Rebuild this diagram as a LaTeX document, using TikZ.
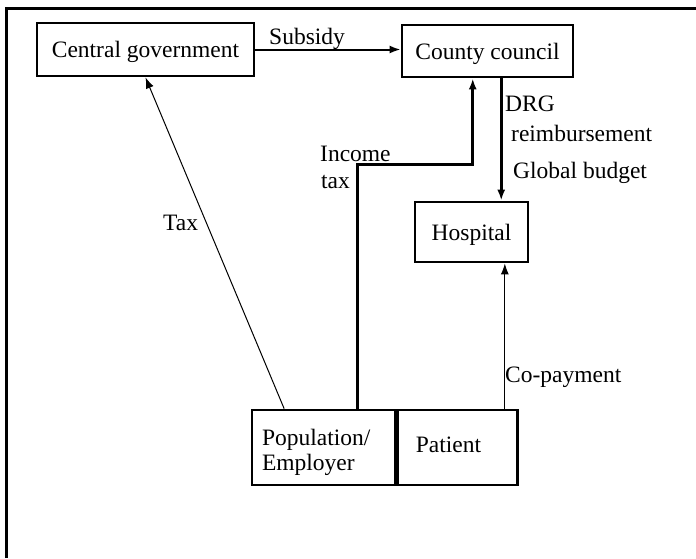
\documentclass[tikz,border=0pt]{standalone}
\usepackage{fontspec}
\setmainfont{Liberation Serif}
\usetikzlibrary{arrows.meta,calc}
\begin{document}
\begin{tikzpicture}[x=1pt, y=-1pt, font=\fontsize{23.5}{27}\selectfont,
		>={Latex[length=11pt,width=8pt]},
		box/.style={draw, line width=2.8pt, rectangle, inner sep=0pt, text depth=0pt},
		flowheavy/.style={line width=2.8pt},
		flowmid/.style={line width=2pt},
		flowthin/.style={line width=1pt},
		lbl/.style={inner sep=0pt, anchor=base west}]
		\useasboundingbox (0,0) rectangle (696,558);
		
		% --- 1. Khung ngoài (chỉ cạnh trên và cạnh trái) ---
		\draw[line width=3pt] (6.5,558) -- (6.5,8) -- (696,8);
		
		% --- 2. Các hộp ---
		\node[box, minimum width=217pt, minimum height=53pt] (cg) at (145.5,49.5) {Central government};
		\node[box, minimum width=171pt, minimum height=52pt] (cc) at (487.5,51) {County council};
		\node[box, minimum width=113pt, minimum height=60pt] (hosp) at (471.5,232) {Hospital};
		
		% Hai hộp dưới cùng (ghép sát nhau)
		\node[box, minimum height=75pt, inner xsep=10pt, text width=123pt, align=left,
			text height=16pt, text depth=21pt,
			font=\fontsize{23.5}{25}\selectfont] (pop) at (323.5,447.5) {Population/\\Employer};
		\node[box, minimum height=75pt, inner xsep=18pt, text width=84pt, align=left,
			text height=16pt, text depth=7pt, anchor=west] (pat) at (pop.east) {Patient};
		
		% --- 3. Các điểm đầu mút trên cạnh hộp ---
		\coordinate (drgtop) at ($(cc.south west)!0.579!(cc.south east)$);
		\coordinate (inctop) at ($(cc.south west)!0.415!(cc.south east)$);
		\coordinate (incbot) at ($(pop.north west)!0.734!(pop.north east)$);
		\coordinate (taxbot) at ($(pop.north west)!0.23!(pop.north east)$);
		\coordinate (copbot) at ($(pat.north west)!0.883!(pat.north east)$);
		
		% --- 4. Các mũi tên ---
		\draw[flowmid, ->] (cg.east) -- (cg.east -| cc.west);
		\draw[flowheavy, ->] (drgtop) -- (drgtop |- hosp.north);
		\draw[flowheavy, ->] (incbot) |- ($(inctop)+(0,86)$) -- (inctop);
		\draw[flowthin, ->] (taxbot) -- (cg.south);
		\draw[flowthin, ->] (copbot) -- (copbot |- hosp.south);
		
		% --- 5. Nhãn ---
		\node[lbl] (subsidy) at (269,44) {Subsidy};
		\node[lbl] (drg) at (505,111) {DRG};
		\node[lbl] (reimb) at (511,141) {reimbursement};
		\node[lbl] (global) at (513,178) {Global budget};
		\node[lbl] (income) at (320,161) {Income};
		\node[lbl] (inctax) at (321,188) {tax};
		\node[lbl] (tax) at (163,230) {Tax};
		\node[lbl] (copay) at (505,382) {Co-payment};
	\end{tikzpicture}
\end{document}
